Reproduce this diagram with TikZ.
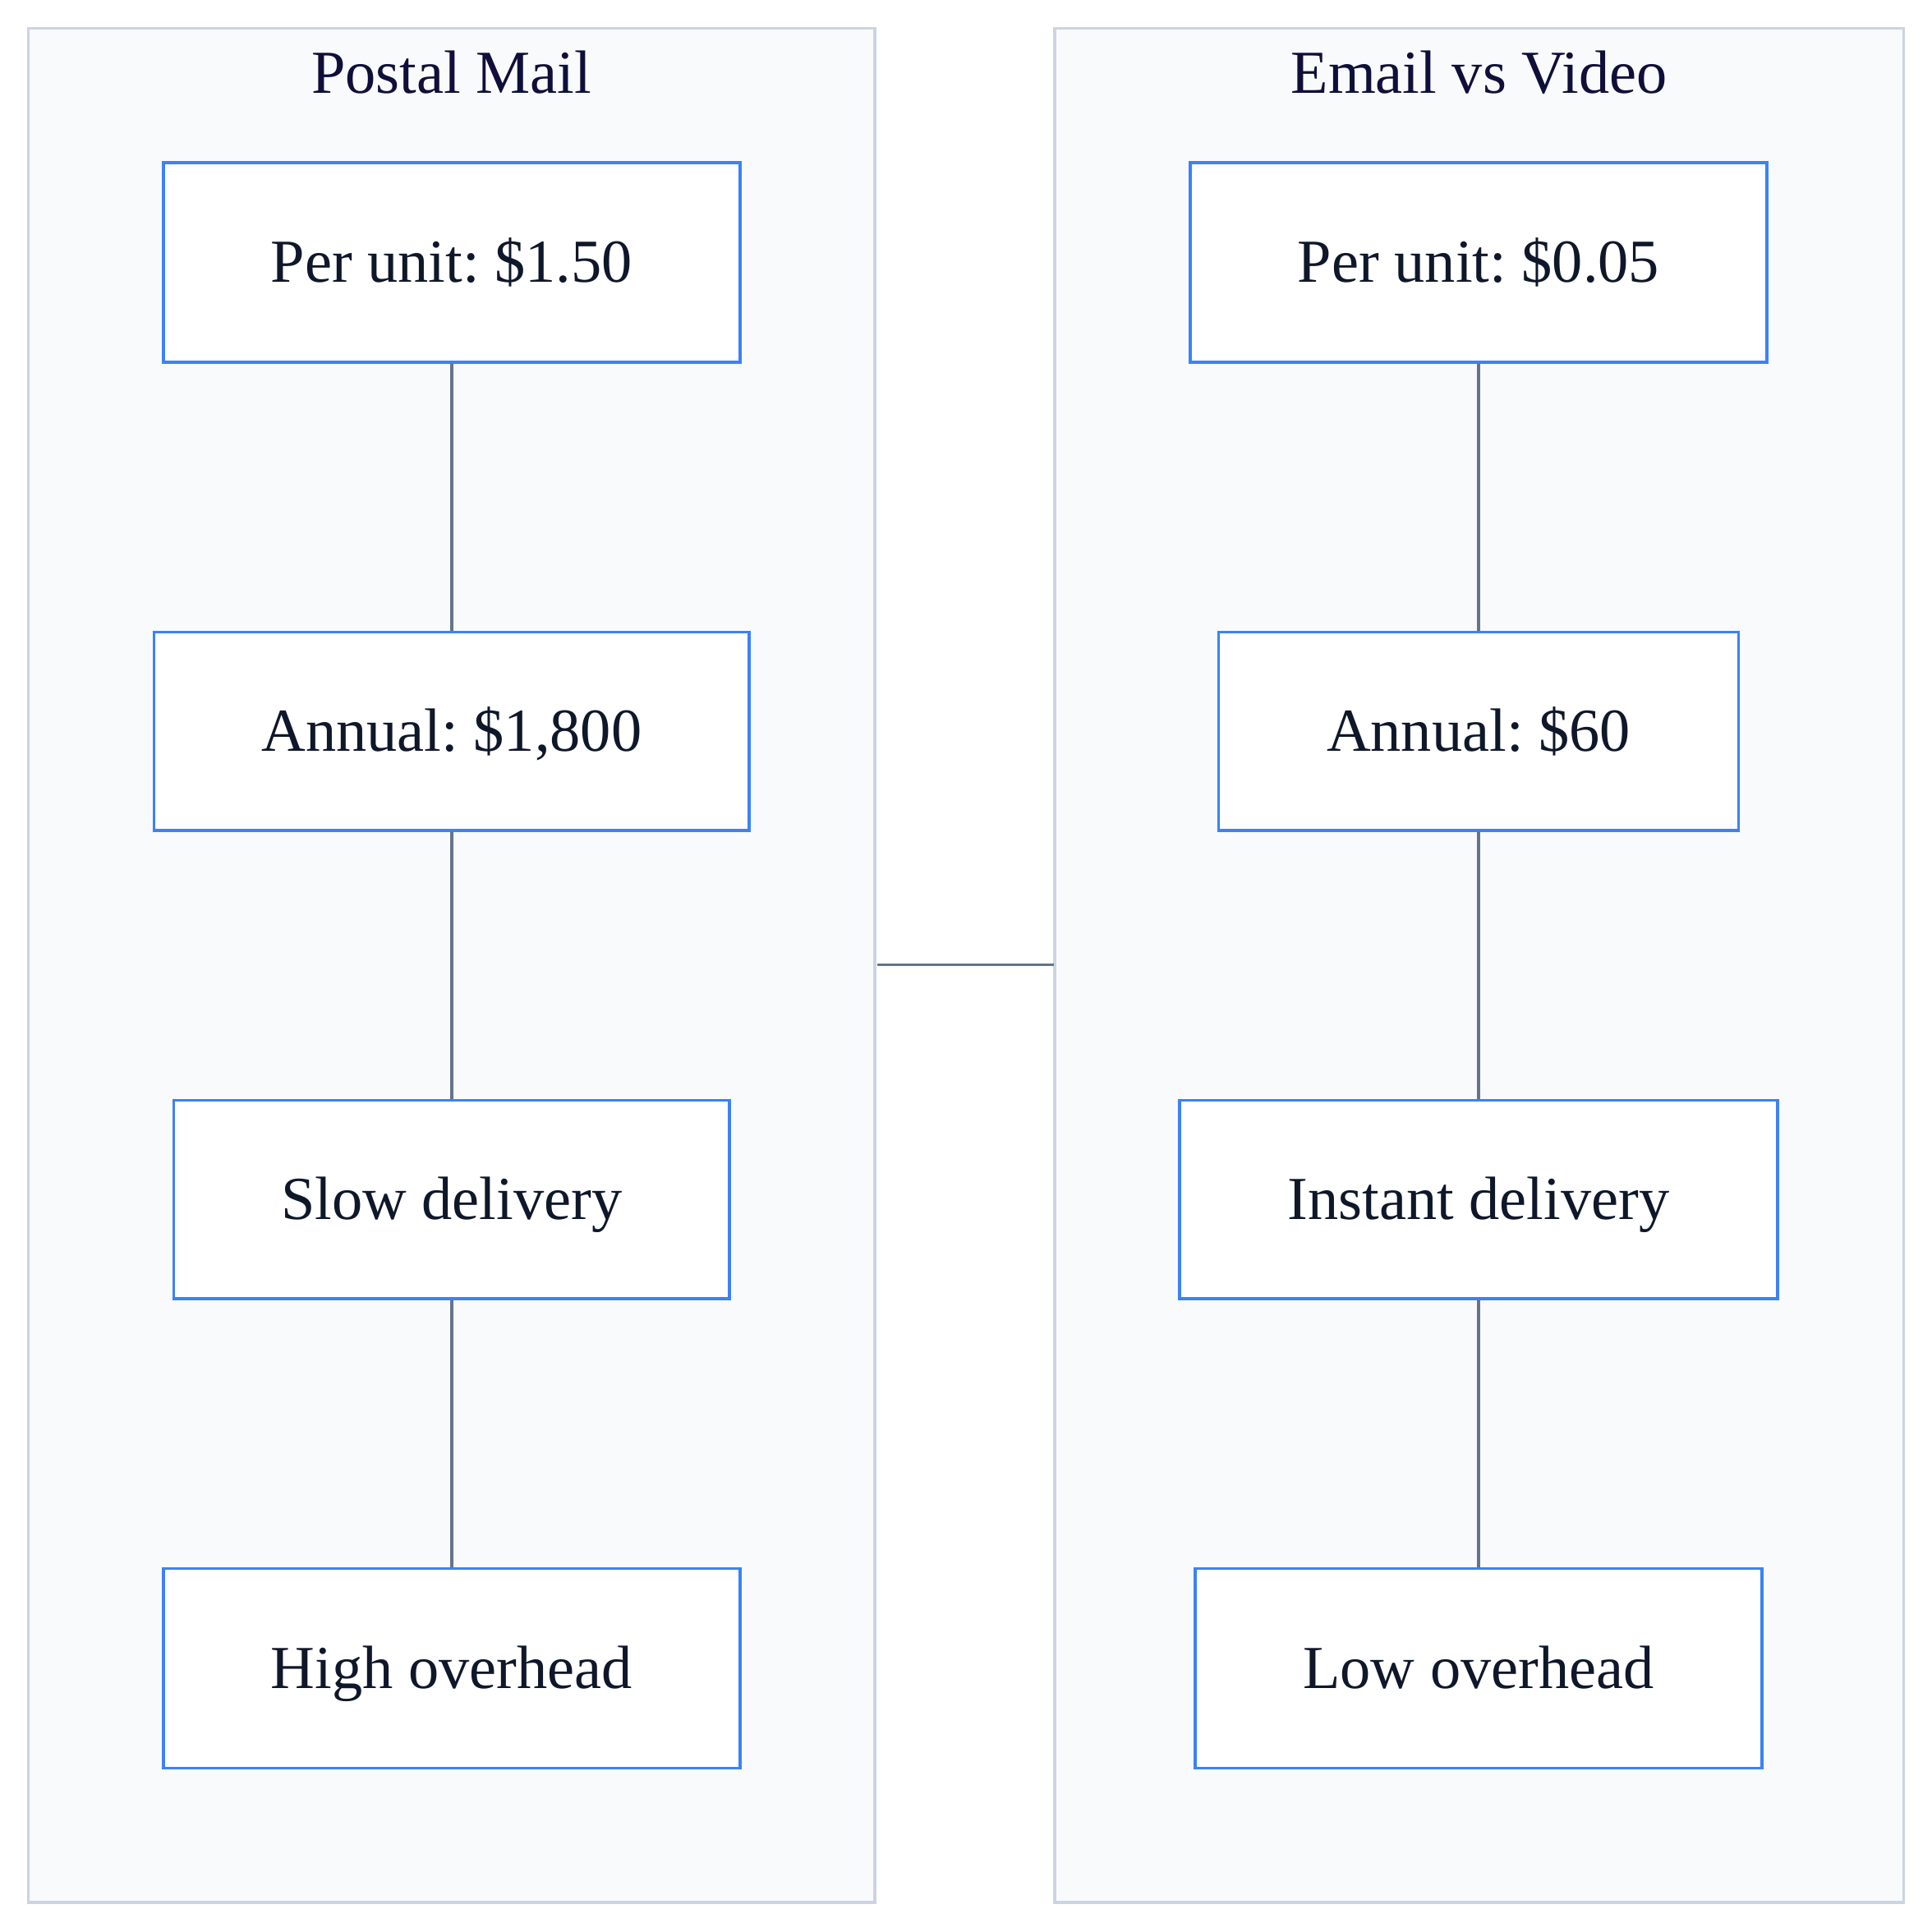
\documentclass[tikz,border=0pt]{standalone}
\usepackage{fontspec}
\setmainfont{Liberation Serif}
\frenchspacing
\definecolor{clfill}{HTML}{F8FAFC}
\definecolor{clborder}{HTML}{CBD5E1}
\definecolor{nodeborder}{HTML}{3B82F6}
\definecolor{edgecol}{HTML}{64748B}
\definecolor{txtcol}{HTML}{0F172A}
\definecolor{titlecol}{HTML}{0F0F3A}
\begin{document}
\begin{tikzpicture}[x=1pt,y=-1pt,
  cluster/.style={draw=clborder,fill=clfill,line width=2.2pt},
  box/.style={draw=nodeborder,fill=white,line width=2.4pt,text=txtcol,font=\fontsize{49.6}{58}\selectfont\frenchspacing,inner sep=0pt,text height=36pt,text depth=4pt},
  title/.style={text=titlecol,font=\fontsize{49.6}{58}\selectfont\frenchspacing,inner sep=0pt,text height=36pt,text depth=4pt},
  link/.style={draw=edgecol,line width=2.4pt}]
\useasboundingbox (0,0) rectangle (1568,1568);
\fill[white] (0,0) rectangle (1568,1568);
% clusters
\draw[cluster] (23,23) rectangle (710,1544);
\draw[cluster] (856,23) rectangle (1545,1544);
\node[title] (t1) at (366.5,60) {Postal Mail};
\node[title] (t2) at (1200.5,60) {Email vs Video};
% left nodes
\node[box,minimum width=468pt,minimum height=162pt] (a1) at (366.5,213) {Per unit: \$1.50};
\node[box,minimum width=483pt,minimum height=161pt] (a2) at (366.5,593.5) {Annual: \$1,800};
\node[box,minimum width=451pt,minimum height=161pt] (a3) at (366.5,973.5) {Slow delivery};
\node[box,minimum width=468pt,minimum height=162pt] (a4) at (366.5,1354) {High overhead};
% right nodes
\node[box,minimum width=468pt,minimum height=162pt] (b1) at (1200,213) {Per unit: \$0.05};
\node[box,minimum width=422pt,minimum height=161pt] (b2) at (1200,593.5) {Annual: \$60};
\node[box,minimum width=485pt,minimum height=161pt] (b3) at (1200,973.5) {Instant delivery};
\node[box,minimum width=460pt,minimum height=162pt] (b4) at (1200,1354) {Low overhead};
% connectors
\draw[link] (a1) -- (a2);
\draw[link] (a2) -- (a3);
\draw[link] (a3) -- (a4);
\draw[link] (b1) -- (b2);
\draw[link] (b2) -- (b3);
\draw[link] (b3) -- (b4);
\coordinate (cl) at (712,783);
\coordinate (cr) at (855,783);
\draw[link] (cl) -- (cr);
\end{tikzpicture}
\end{document}
